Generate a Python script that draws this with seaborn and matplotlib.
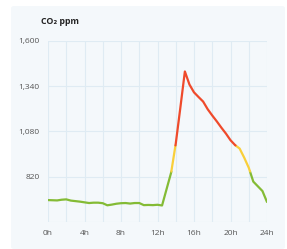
import matplotlib
matplotlib.use("Agg")
import matplotlib.pyplot as plt
from matplotlib.patches import FancyBboxPatch
import numpy as np
import pandas as pd
import seaborn as sns

# ---- data ----
HOURS = [0, 0.5, 1, 1.5, 2, 2.5, 3, 3.5, 4, 4.5, 5, 5.5, 6, 6.5, 7, 7.5,
         8, 8.5, 9, 9.5, 10, 10.5, 11, 11.5, 12, 12.5, 13, 13.5, 14, 14.5,
         15, 15.5, 16, 16.5, 17, 17.5, 18, 18.5, 19, 19.5, 20, 20.5, 21,
         21.5, 22, 22.5, 23, 23.5, 24]
CO2 = [686, 685, 684, 688, 690, 683, 680, 677, 673, 669, 671, 671, 668, 656,
       660, 665, 668, 669, 666, 669, 669, 657, 658, 657, 659, 655, 750, 845,
       1010, 1215, 1425, 1350, 1305, 1278, 1252, 1208, 1172, 1138, 1102,
       1068, 1030, 1002, 982, 930, 872, 792, 765, 738, 675]

LEVELS = [850, 1000]                  # colour thresholds
LEVEL_COLORS = ["#84bb35", "#f9cf3a", "#ef4a2b"]
Y_TICKS = [560, 820, 1080, 1340, 1600]
Y_LABELS = ["", "820", "1,080", "1,340", "1,600"]
X_TICKS = [0, 2, 4, 6, 8, 10, 12, 14, 16, 18, 20, 22, 24]
X_LABELS = ["0h", "", "4h", "", "8h", "", "12h", "", "16h", "", "20h", "", "24h"]

C_CARD = "#f4f8fb"
C_GRID = "#dfebf3"
C_TEXT = "#555555"


def level_of(v):
    return int(np.searchsorted(LEVELS, v, side="right"))


def split_by_level(xs, ys):
    # insert threshold crossings so every colour piece meets the next one
    pts = [(xs[0], ys[0])]
    for (x0, y0), (x1, y1) in zip(zip(xs[:-1], ys[:-1]), zip(xs[1:], ys[1:])):
        cross = [t for t in LEVELS if min(y0, y1) < t < max(y0, y1)]
        cross.sort(reverse=y1 < y0)
        for t in cross:
            pts.append((x0 + (t - y0) / (y1 - y0) * (x1 - x0), t))
        pts.append((x1, y1))
    rows, seg = [], 0
    cur = None
    for i in range(len(pts) - 1):
        (xa, ya), (xb, yb) = pts[i], pts[i + 1]
        lv = level_of((ya + yb) / 2)
        if lv != cur:
            seg += 1
            cur = lv
            rows.append((seg, lv, xa, ya))
        rows.append((seg, lv, xb, yb))
    return pd.DataFrame(rows, columns=["seg", "level", "hour", "ppm"])


sns.set_theme(style="white")
plt.rcParams["font.family"] = ["Open Sans", "DejaVu Sans"]

fig = plt.figure(figsize=(2.87, 2.49), dpi=100)
fig.patch.set_facecolor("white")
fig.patches.append(FancyBboxPatch((11 / 287, 0), 274 / 287, 1 - 6 / 249,
                                  boxstyle="round,pad=0,rounding_size=0.01",
                                  transform=fig.transFigure, facecolor=C_CARD,
                                  edgecolor="none", zorder=-10))

ax = fig.add_axes([48 / 287, 1 - 222 / 249, 219 / 287, 181 / 249])
ax.set_facecolor(C_CARD)
ax.set_zorder(5)

df = split_by_level(HOURS, CO2)
sns.lineplot(data=df, x="hour", y="ppm", hue="level", units="seg",
             estimator=None, sort=False, palette=dict(enumerate(LEVEL_COLORS)),
             linewidth=1.6, legend=False, ax=ax)

ax.set_xlim(0, 24)
ax.set_ylim(560, 1600)
ax.set_xticks(X_TICKS)
ax.set_xticklabels(X_LABELS)
ax.set_yticks(Y_TICKS)
ax.set_yticklabels(Y_LABELS)
ax.tick_params(length=0, labelsize=6, colors=C_TEXT)
ax.tick_params(axis="x", pad=6)
ax.tick_params(axis="y", pad=6)
ax.grid(True, color=C_GRID, linewidth=0.8)
for s in ax.spines.values():
    s.set_visible(False)
ax.set_xlabel("")
ax.set_ylabel("")

fig.text(41 / 287, 1 - 22 / 249, "CO₂ ppm", fontsize=6.3, fontweight="bold",
         color="#222222", va="center", ha="left", zorder=10)

fig.savefig("out.png", dpi=100)
